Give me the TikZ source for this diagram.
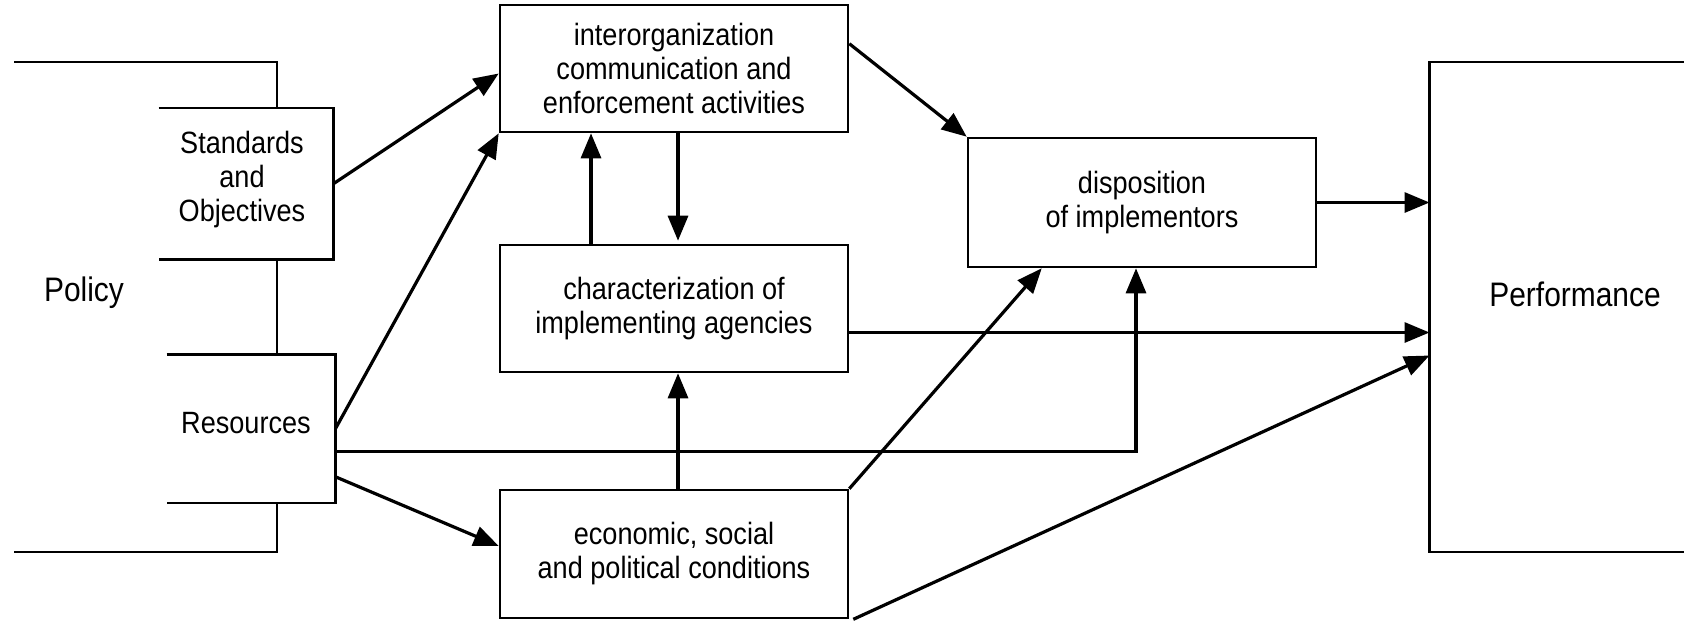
\documentclass[tikz,border=0pt]{standalone}
\usepackage{fontspec}
\setmainfont{Liberation Sans}[FakeStretch=0.88]
\usetikzlibrary{arrows.meta,calc}
\begin{document}
\begin{tikzpicture}[x=0.5pt,y=-0.5pt,
  box/.style={draw, line width=1.3pt, minimum width=174pt, minimum height=63.5pt,
    inner sep=0pt, align=center, font=\fontsize{15.4}{17}\selectfont},
  openbox/.style={inner sep=0pt},
  txt/.style={inner sep=0pt, align=center, font=\fontsize{15.4}{17}\selectfont},
  bigtext/.style={inner sep=0pt, font=\fontsize{17}{20}\selectfont},
  edge/.style={line width=1.3pt},
  arr/.style={line width=1.6pt, -{Triangle[length=12.5pt,width=10pt]}}
]
\useasboundingbox (0,0) rectangle (1684,622);

% central boxes
\node[box] (io) at (674,68.5) {interorganization\\communication and\\enforcement activities};
\node[box] (ch) at (674,308.5) {characterization of\\implementing agencies};
\node[box, minimum height=64pt] (ec) at (674,554) {economic, social\\and political conditions};
\node[box, minimum height=64.5pt] (dp) at (1142,202.5) {disposition\\of implementors};

% policy side
\node[openbox, minimum width=87pt, minimum height=75.25pt] (std) at (246,183.75) {};
\node[openbox, minimum width=84pt, minimum height=73.75pt] (res) at (251,428.75) {};
\node[txt] (stdtext) at (242,180) {Standards\\and\\Objectives};
\node[txt] (restext) at (246,423) {Resources};
\draw[edge] (std.north west) -- (std.north east) -- (std.south east) -- (std.south west);
\draw[edge] (res.north west) -- (res.north east) -- (res.south east) -- (res.south west);
\coordinate (pcol) at (277,0);
\coordinate (pol-tl) at (14,62);
\coordinate (pol-bl) at (14,552);
\draw[edge] (pol-tl) -| (std.north -| pcol);
\draw[edge] (std.south -| pcol) -- (res.north -| pcol);
\draw[edge] (res.south -| pcol) |- (pol-bl);
\node[bigtext] (policy) at (84,293) {Policy};

% performance side
\coordinate (pf-tl) at (1429.5,62);
\coordinate (pf-bl) at (1429.5,552);
\coordinate (pf-tr) at (1684,62);
\coordinate (pf-br) at (1684,552);
\draw[edge] (pf-tr) -- (pf-tl) -- (pf-bl) -- (pf-br);
\node[bigtext] (perf) at (1575,294) {Performance};

% connectors
\draw[arr] (std.east) -- ($(io.west)+(0,5)$);
\draw[arr] (res.east) -- (io.south west);
\draw[arr] ($(res.east)+(0,23)$) -| ($(dp.south)+(-6,0)$);
\draw[arr] ($(res.east)+(0,48)$) -- ($(ec.west)+(0,-8)$);
\draw[arr] ($(ch.north)+(-83,0)$) -- ($(io.south)+(-83,0)$);
\draw[arr] ($(io.south)+(4,0)$) -- ($(ch.north)+(4,-3)$);
\draw[arr] ($(ec.north)+(4,0)$) -- ($(ch.south)+(4,0)$);
\draw[arr] ($(io.north east)+(0,40)$) -- (dp.north west);
\draw[arr] (dp.east) -- (dp.east -| pf-tl);
\coordinate (chout) at ($(ch.east)+(0,24)$);
\draw[arr] (chout) -- (chout -| pf-tl);
\draw[arr] (ec.north east) -- ($(dp.south west)+(75,0)$);
\coordinate (pfin) at ($(pf-tl)+(0,293.5)$);
\draw[arr] ($(ec.south east)+(4,0)$) -- (pfin);
\end{tikzpicture}
\end{document}
